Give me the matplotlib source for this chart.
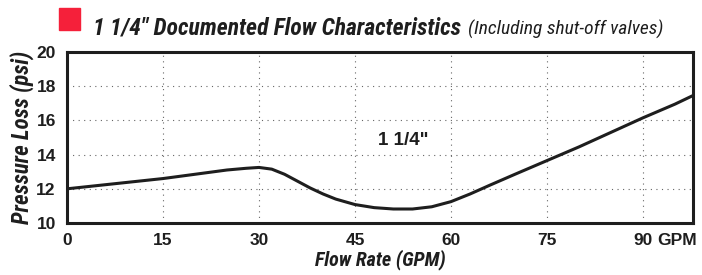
import matplotlib
matplotlib.use("Agg")
import matplotlib.pyplot as plt
from matplotlib.patches import Rectangle

# flow rate (GPM) vs pressure loss (psi)
flow = [0, 5, 10, 15, 20, 25, 28, 30, 32, 34, 36, 38, 40, 42, 45, 48, 51, 54,
        57, 60, 63, 66, 70, 75, 80, 85, 90, 95, 97.8]
loss = [12.0, 12.2, 12.4, 12.6, 12.85, 13.1, 13.2, 13.25, 13.15, 12.85, 12.45,
        12.05, 11.7, 11.4, 11.08, 10.9, 10.82, 10.82, 10.95, 11.25, 11.7,
        12.2, 12.85, 13.65, 14.45, 15.3, 16.15, 16.95, 17.45]
xticks = [0, 15, 30, 45, 60, 75, 90]
xtick_labels = ["0", "15", "30", "45", "60", "75", "90"]
yticks = [10, 12, 14, 16, 18, 20]

cond = "Roboto Condensed"
ink = "#1e1e1e"

fig = plt.figure(figsize=(7.02, 2.75), dpi=100)
ax = fig.add_axes([0.0954, 0.189, 0.8916, 0.622])

ax.plot(flow, loss, color=ink, linewidth=2.2)
ax.set_xlim(0, 97.8)
ax.set_ylim(10, 20)
ax.set_xticks(xticks)
ax.set_xticklabels(xtick_labels)
ax.set_yticks(yticks)
ax.tick_params(axis="x", length=0, labelsize=12.5, pad=7)
ax.tick_params(axis="y", length=0, labelsize=12.5, pad=8)
for lab in ax.get_xticklabels() + ax.get_yticklabels():
    lab.set_fontfamily("Liberation Sans")
    lab.set_fontweight("bold")
    lab.set_color(ink)
ax.grid(True, linestyle=(0, (1, 4)), color="#666666", linewidth=0.8)
for s in ax.spines.values():
    s.set_linewidth(2.2)
    s.set_color(ink)

# "GPM" unit after the last tick label
ax.annotate("GPM", xy=(90, 0), xycoords=("data", "axes fraction"),
            xytext=(10.5, -7), textcoords="offset points", ha="left", va="top",
            fontsize=12.5, fontweight="bold", family="Liberation Sans", color=ink)

ax.text(52.6, 14.85, '1 1/4"', ha="center", va="center", fontsize=13.5,
        fontweight="bold", family="Liberation Sans", color=ink)

ax.set_xlabel("Flow Rate (GPM)", fontsize=14.5, fontweight="bold", style="italic",
              family=cond, labelpad=1, color=ink)
ax.set_ylabel("Pressure Loss (psi)", fontsize=16.5, fontweight="bold", style="italic",
              family=cond, labelpad=2, color=ink)

fig.patches.append(Rectangle((59 / 702, 1 - 30 / 275), 21 / 702, 22 / 275,
                             transform=fig.transFigure, color="#f5203a", zorder=5))
fig.text(93 / 702, 0.873, '1 1/4" Documented Flow Characteristics', fontsize=17,
         fontweight="bold", style="italic", family=cond, color=ink)
fig.text(468 / 702, 0.873, "(Including shut-off valves)", fontsize=14,
         style="italic", family=cond, color=ink)

fig.savefig("out.png", dpi=100)
